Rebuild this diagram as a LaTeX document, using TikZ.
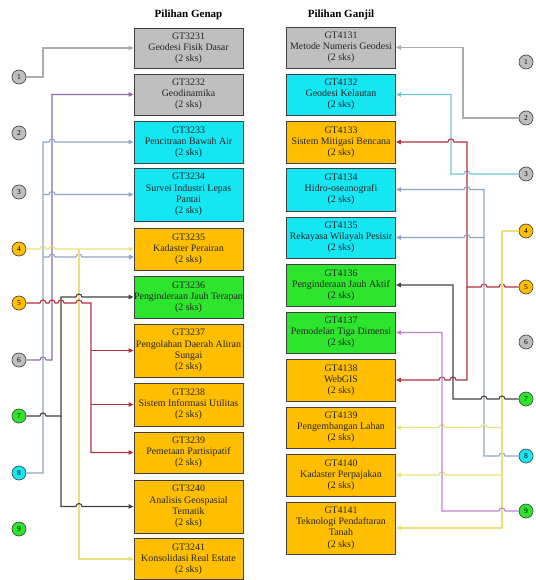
\documentclass[tikz,border=0pt]{standalone}
\usepackage{fontspec}
\setmainfont{Liberation Serif}
\usetikzlibrary{arrows.meta}

\definecolor{boxgrey}{HTML}{BFBFBF}
\definecolor{boxcyan}{HTML}{14E6F2}
\definecolor{boxorange}{HTML}{FFBF00}
\definecolor{boxgreen}{HTML}{2EE52E}
\definecolor{lgrey}{HTML}{ABABAB}
\definecolor{lpurple}{HTML}{8A6CA6}
\definecolor{lsteel}{HTML}{8EA4C2}
\definecolor{lyellow}{HTML}{E9E27C}
\definecolor{lred}{HTML}{B2303E}
\definecolor{lblack}{HTML}{424242}
\definecolor{lcyan}{HTML}{6CC6D6}
\definecolor{lpink}{HTML}{C283CB}

\tikzset{
    box/.style={draw=black!75, line width=0.8pt, minimum width=109pt, inner sep=0pt,
        align=center, text=black!85, font=\fontsize{9.9}{11.2}\selectfont},
    num/.style={circle, draw=black!70, line width=0.7pt, minimum size=14pt, inner sep=0pt,
        font=\fontsize{7.5}{7.5}\selectfont},
    wire/.style={line width=1.1pt, -{Triangle[length=5pt,width=4.5pt]}},
    hop/.style 2 args={insert path={-- (#1-3,#2) arc[start angle=180, end angle=360, radius=3]}},
    hopl/.style 2 args={insert path={-- (#1+3,#2) arc[start angle=0, end angle=-180, radius=3]}},
}

\begin{document}
\begin{tikzpicture}[x=1pt, y=-1pt]

    \useasboundingbox (0,0) rectangle (535,580);

    \node [font=\bfseries\fontsize{11}{12}\selectfont] (tgenap) at (188.5,15) {Pilihan Genap};
    \node [font=\bfseries\fontsize{11}{12}\selectfont] (tganjil) at (341,15) {Pilihan Ganjil};

    % Pilihan Genap
    \node [box, fill=boxgrey,   minimum height=40pt] (g1)  at (188.5, 48)  {GT3231\\Geodesi Fisik Dasar\\(2 sks)};
    \node [box, fill=boxgrey,   minimum height=41pt] (g2)  at (188.5, 94.5) {GT3232\\Geodinamika\\(2 sks)};
    \node [box, fill=boxcyan,   minimum height=42pt] (g3)  at (188.5,142)  {GT3233\\Pencitraan Bawah Air\\(2 sks)};
    \node [box, fill=boxcyan,   minimum height=53pt] (g4)  at (188.5,194.5) {GT3234\\Survei Industri Lepas\\Pantai\\(2 sks)};
    \node [box, fill=boxorange, minimum height=42pt] (g5)  at (188.5,249)  {GT3235\\Kadaster Perairan\\(2 sks)};
    \node [box, fill=boxgreen,  minimum height=42pt] (g6)  at (188.5,297)  {GT3236\\Penginderaan Jauh Terapan\\(2 sks)};
    \node [box, fill=boxorange, minimum height=53pt] (g7)  at (188.5,350.5) {GT3237\\Pengolahan Daerah Aliran\\Sungai\\(2 sks)};
    \node [box, fill=boxorange, minimum height=43pt] (g8)  at (188.5,404.5) {GT3238\\Sistem Informasi Utilitas\\(2 sks)};
    \node [box, fill=boxorange, minimum height=41pt] (g9)  at (188.5,452.5) {GT3239\\Pemetaan Partisipatif\\(2 sks)};
    \node [box, fill=boxorange, minimum height=53pt] (g10) at (188.5,506.5) {GT3240\\Analisis Geospasial\\Tematik\\(2 sks)};
    \node [box, fill=boxorange, minimum height=41pt] (g11) at (188.5,559)  {GT3241\\Konsolidasi Real Estate\\(2 sks)};

    % Pilihan Ganjil
    \node [box, fill=boxgrey,   minimum height=41pt] (j1)  at (341, 47.5) {GT4131\\Metode Numeris Geodesi\\(2 sks)};
    \node [box, fill=boxcyan,   minimum height=41pt] (j2)  at (341, 94.5) {GT4132\\Geodesi Kelautan\\(2 sks)};
    \node [box, fill=boxorange, minimum height=42pt] (j3)  at (341,142)   {GT4133\\Sistem Mitigasi Bencana\\(2 sks)};
    \node [box, fill=boxcyan,   minimum height=43pt] (j4)  at (341,189.5) {GT4134\\Hidro-oseanografi\\(2 sks)};
    \node [box, fill=boxcyan,   minimum height=41pt] (j5)  at (341,237.5) {GT4135\\Rekayasa Wilayah Pesisir\\(2 sks)};
    \node [box, fill=boxgreen,  minimum height=42pt] (j6)  at (341,285)   {GT4136\\Penginderaan Jauh Aktif\\(2 sks)};
    \node [box, fill=boxgreen,  minimum height=41pt] (j7)  at (341,332.5) {GT4137\\Pemodelan Tiga Dimensi\\(2 sks)};
    \node [box, fill=boxorange, minimum height=42pt] (j8)  at (341,380)   {GT4138\\WebGIS\\(2 sks)};
    \node [box, fill=boxorange, minimum height=41pt] (j9)  at (341,427.5) {GT4139\\Pengembangan Lahan\\(2 sks)};
    \node [box, fill=boxorange, minimum height=42pt] (j10) at (341,475)   {GT4140\\Kadaster Perpajakan\\(2 sks)};
    \node [box, fill=boxorange, minimum height=52pt] (j11) at (341,528)   {GT4141\\Teknologi Pendaftaran\\Tanah\\(2 sks)};

    % lingkaran kiri dan kanan
    \foreach \i/\yl/\yr/\c in {1/77/62/boxgrey, 2/133/118/boxgrey, 3/192/174/boxgrey,
                               4/249/231/boxorange, 5/303/287/boxorange, 6/360/342/boxgrey,
                               7/416/399/boxgreen, 8/473/456/boxcyan, 9/529/511/boxgreen} {
        \node [num, fill=\c] (l\i) at (19,\yl) {\i};
        \node [num, fill=\c] (r\i) at (526,\yr) {\i};
    }

    % sisi kiri
    \draw [wire, lgrey] (l1.east) -| (43,48) -- (g1.west);
    \draw [wire, lpurple] (l6.east) [hop={43}{360}] -- (52,360) -- (52,94.5) -- (g2.west);
    \draw [wire, lsteel] (l8.east) -| (43,142) [hop={52}{142}] -- (g3.west);
    \draw [wire, lsteel] (43,194.5) [hop={52}{194.5}] -- (g4.west);
    \draw [wire, lsteel] (43,257) [hop={52}{257}] [hop={79}{257}] -- (134,257);
    \draw [wire, lyellow] (l4.east) [hop={43}{249}] [hop={52}{249}] -- (g5.west);
    \draw [wire, lyellow] (79,249) -- (79,559) -- (g11.west);
    \draw [wire, lblack] (l7.east) [hop={43}{416}] -- (61,416) -- (61,297) [hop={79}{297}] -- (g6.west);
    \draw [wire, lblack] (61,416) -- (61,506.5) [hop={79}{506.5}] -- (g10.west);
    \draw [wire, lred] (l5.east) [hop={43}{303}] [hop={52}{303}] [hop={61}{303}] [hop={79}{303}]
        -- (91,303) |- (g9.west);
    \draw [wire, lred] (91,350.5) -- (g7.west);
    \draw [wire, lred] (91,404.5) -- (g8.west);

    % sisi kanan
    \draw [wire, lgrey] (r2.west) -| (463,47.5) -- (j1.east);
    \draw [wire, lcyan] (r3.west) [hopl={467}{174}] -- (451,174) -- (451,94.5) -- (j2.east);
    \draw [wire, lred] (r5.west) [hopl={502}{287}] [hopl={484}{287}] -- (467,287) -- (467,142)
        [hopl={451}{142}] -- (j3.east);
    \draw [wire, lred] (467,287) -- (467,380) [hopl={453}{380}] [hopl={442}{380}] -- (j8.east);
    \draw [wire, lsteel] (r8.west) [hopl={502}{456}] -- (484,456) -- (484,189.5) [hopl={467}{189.5}] -- (j4.east);
    \draw [wire, lsteel] (484,237.5) [hopl={467}{237.5}] -- (j5.east);
    \draw [wire, lyellow] (r4.west) -| (502,528) -- (j11.east);
    \draw [wire, lyellow] (502,427.5) [hopl={484}{427.5}] [hopl={442}{427.5}] -- (j9.east);
    \draw [wire, lyellow] (502,475) [hopl={442}{475}] -- (j10.east);
    \draw [wire, lblack] (r7.west) [hopl={502}{399}] [hopl={484}{399}] -- (453,399) -- (453,285) -- (j6.east);
    \draw [wire, lpink] (r9.west) [hopl={502}{511}] -- (442,511) -- (442,332.5) -- (j7.east);

\end{tikzpicture}
\end{document}
